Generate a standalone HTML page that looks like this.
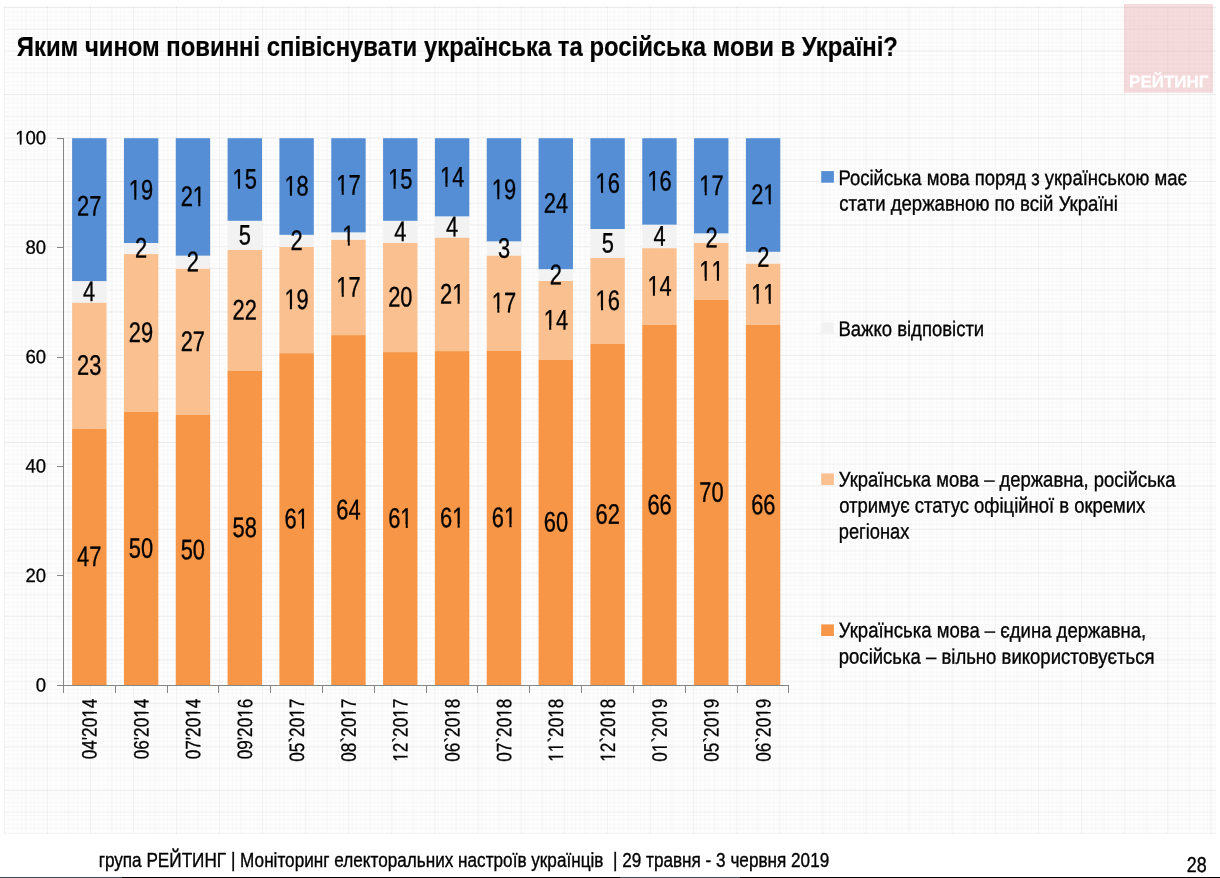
<!DOCTYPE html>
<html lang="uk"><head><meta charset="utf-8"><title>Рейтинг</title>
<style>html,body{margin:0;padding:0;background:#fff}body{width:1220px;height:878px;overflow:hidden;position:relative}svg{position:absolute;left:0;top:0;display:block}text{font-family:"Liberation Sans",sans-serif;white-space:pre}.tex{position:absolute;left:4px;top:5.5px;width:1212px;height:828.3px;background-color:#fdfdfd;background-image:linear-gradient(to right,rgba(0,0,0,.04) 1px,transparent 1px),linear-gradient(to bottom,rgba(0,0,0,.055) 1px,transparent 1px),linear-gradient(to right,rgba(0,0,0,.02) 1px,transparent 1px),linear-gradient(to bottom,rgba(0,0,0,.035) 1px,transparent 1px),linear-gradient(to right,rgba(0,0,0,.012) 1px,transparent 1px),linear-gradient(to bottom,rgba(0,0,0,.02) 1px,transparent 1px);background-size:43.1px 43.5px,43.1px 43.5px,43.1px 43.5px,43.1px 43.5px,4.31px 4.35px,4.31px 4.35px;background-position:-0.4px 0,0 1.1px,21.15px 0,0 22.85px,0 0,0 1.1px}.foot{position:absolute;left:0;top:876.5px;width:1220px;height:1.5px;background:linear-gradient(to right,#3b4852 0,#3b4852 122px,#000 122px,#000 620px,#3b4852 620px,#3b4852 740px,#000 740px)}</style></head><body>
<div class="tex"></div>
<svg width="1220" height="878" viewBox="0 0 1220 878">
<defs><clipPath id="c0"><rect x="-300" y="-100" width="600" height="97.51"/><rect x="-300.00" y="-2.49" width="267.27" height="20"/><rect x="-27.39" y="-2.49" width="1.80" height="20"/><rect x="-20.41" y="-2.49" width="320.41" height="20"/></clipPath><clipPath id="c1"><rect x="-300" y="-100" width="600" height="97.40"/><rect x="-300.00" y="-2.60" width="276.45" height="20"/><rect x="-17.96" y="-2.60" width="1.95" height="20"/><rect x="-10.58" y="-2.60" width="310.58" height="20"/></clipPath><clipPath id="c2"><rect x="-300" y="-100" width="600" height="97.40"/><rect x="-300.00" y="-2.60" width="276.45" height="20"/><rect x="-17.96" y="-2.60" width="1.95" height="20"/><rect x="-10.58" y="-2.60" width="310.58" height="20"/></clipPath><clipPath id="c3"><rect x="-300" y="-100" width="600" height="97.40"/><rect x="-300.00" y="-2.60" width="276.45" height="20"/><rect x="-17.96" y="-2.60" width="1.95" height="20"/><rect x="-10.58" y="-2.60" width="310.58" height="20"/></clipPath><clipPath id="c4"><rect x="-300" y="-100" width="600" height="97.40"/><rect x="-300.00" y="-2.60" width="276.45" height="20"/><rect x="-17.96" y="-2.60" width="1.95" height="20"/><rect x="-10.58" y="-2.60" width="310.58" height="20"/></clipPath><clipPath id="c5"><rect x="-300" y="-100" width="600" height="97.40"/><rect x="-300.00" y="-2.60" width="276.45" height="20"/><rect x="-17.96" y="-2.60" width="1.95" height="20"/><rect x="-10.58" y="-2.60" width="310.58" height="20"/></clipPath><clipPath id="c6"><rect x="-300" y="-100" width="600" height="97.40"/><rect x="-300.00" y="-2.60" width="276.45" height="20"/><rect x="-17.96" y="-2.60" width="1.95" height="20"/><rect x="-10.58" y="-2.60" width="310.58" height="20"/></clipPath><clipPath id="c7"><rect x="-300" y="-100" width="600" height="97.40"/><rect x="-300.00" y="-2.60" width="223.25" height="20"/><rect x="-71.16" y="-2.60" width="1.95" height="20"/><rect x="-63.78" y="-2.60" width="40.23" height="20"/><rect x="-17.96" y="-2.60" width="1.95" height="20"/><rect x="-10.58" y="-2.60" width="310.58" height="20"/></clipPath><clipPath id="c8"><rect x="-300" y="-100" width="600" height="97.40"/><rect x="-300.00" y="-2.60" width="276.45" height="20"/><rect x="-17.96" y="-2.60" width="1.95" height="20"/><rect x="-10.58" y="-2.60" width="310.58" height="20"/></clipPath><clipPath id="c9"><rect x="-300" y="-100" width="600" height="97.40"/><rect x="-300.00" y="-2.60" width="276.45" height="20"/><rect x="-17.96" y="-2.60" width="1.95" height="20"/><rect x="-10.58" y="-2.60" width="310.58" height="20"/></clipPath><clipPath id="c10"><rect x="-300" y="-100" width="600" height="97.40"/><rect x="-300.00" y="-2.60" width="223.25" height="20"/><rect x="-71.16" y="-2.60" width="1.95" height="20"/><rect x="-63.78" y="-2.60" width="-1.40" height="20"/><rect x="-59.59" y="-2.60" width="1.95" height="20"/><rect x="-52.21" y="-2.60" width="28.66" height="20"/><rect x="-17.96" y="-2.60" width="1.95" height="20"/><rect x="-10.58" y="-2.60" width="310.58" height="20"/></clipPath><clipPath id="c11"><rect x="-300" y="-100" width="600" height="97.40"/><rect x="-300.00" y="-2.60" width="223.25" height="20"/><rect x="-71.16" y="-2.60" width="1.95" height="20"/><rect x="-63.78" y="-2.60" width="40.23" height="20"/><rect x="-17.96" y="-2.60" width="1.95" height="20"/><rect x="-10.58" y="-2.60" width="310.58" height="20"/></clipPath><clipPath id="c12"><rect x="-300" y="-100" width="600" height="97.40"/><rect x="-300.00" y="-2.60" width="234.82" height="20"/><rect x="-59.59" y="-2.60" width="1.95" height="20"/><rect x="-52.21" y="-2.60" width="28.66" height="20"/><rect x="-17.96" y="-2.60" width="1.95" height="20"/><rect x="-10.58" y="-2.60" width="310.58" height="20"/></clipPath><clipPath id="c13"><rect x="-300" y="-100" width="600" height="97.40"/><rect x="-300.00" y="-2.60" width="276.45" height="20"/><rect x="-17.96" y="-2.60" width="1.95" height="20"/><rect x="-10.58" y="-2.60" width="310.58" height="20"/></clipPath><clipPath id="c14"><rect x="-300" y="-100" width="600" height="97.40"/><rect x="-300.00" y="-2.60" width="276.45" height="20"/><rect x="-17.96" y="-2.60" width="1.95" height="20"/><rect x="-10.58" y="-2.60" width="310.58" height="20"/></clipPath><clipPath id="c15"><rect x="-300" y="-100" width="600" height="96.82"/><rect x="-300.00" y="-3.18" width="284.46" height="20"/><rect x="-8.66" y="-3.18" width="2.63" height="20"/><rect x="0.62" y="-3.18" width="299.38" height="20"/></clipPath><clipPath id="c16"><rect x="-300" y="-100" width="600" height="96.82"/><rect x="-300.00" y="-3.18" width="300.15" height="20"/><rect x="7.02" y="-3.18" width="2.63" height="20"/><rect x="16.31" y="-3.18" width="283.69" height="20"/></clipPath><clipPath id="c17"><rect x="-300" y="-100" width="600" height="96.82"/><rect x="-300.00" y="-3.18" width="284.46" height="20"/><rect x="-8.66" y="-3.18" width="2.63" height="20"/><rect x="0.62" y="-3.18" width="299.38" height="20"/></clipPath><clipPath id="c18"><rect x="-300" y="-100" width="600" height="96.82"/><rect x="-300.00" y="-3.18" width="284.46" height="20"/><rect x="-8.66" y="-3.18" width="2.63" height="20"/><rect x="0.62" y="-3.18" width="299.38" height="20"/></clipPath><clipPath id="c19"><rect x="-300" y="-100" width="600" height="96.82"/><rect x="-300.00" y="-3.18" width="300.15" height="20"/><rect x="7.02" y="-3.18" width="2.63" height="20"/><rect x="16.31" y="-3.18" width="283.69" height="20"/></clipPath><clipPath id="c20"><rect x="-300" y="-100" width="600" height="96.82"/><rect x="-300.00" y="-3.18" width="284.46" height="20"/><rect x="-8.66" y="-3.18" width="2.63" height="20"/><rect x="0.62" y="-3.18" width="299.38" height="20"/></clipPath><clipPath id="c21"><rect x="-300" y="-100" width="600" height="96.82"/><rect x="-300.00" y="-3.18" width="292.31" height="20"/><rect x="-0.82" y="-3.18" width="2.63" height="20"/><rect x="8.46" y="-3.18" width="291.54" height="20"/></clipPath><clipPath id="c22"><rect x="-300" y="-100" width="600" height="96.82"/><rect x="-300.00" y="-3.18" width="284.46" height="20"/><rect x="-8.66" y="-3.18" width="2.63" height="20"/><rect x="0.62" y="-3.18" width="299.38" height="20"/></clipPath><clipPath id="c23"><rect x="-300" y="-100" width="600" height="96.82"/><rect x="-300.00" y="-3.18" width="284.46" height="20"/><rect x="-8.66" y="-3.18" width="2.63" height="20"/><rect x="0.62" y="-3.18" width="299.38" height="20"/></clipPath><clipPath id="c24"><rect x="-300" y="-100" width="600" height="96.82"/><rect x="-300.00" y="-3.18" width="284.46" height="20"/><rect x="-8.66" y="-3.18" width="2.63" height="20"/><rect x="0.62" y="-3.18" width="-0.48" height="20"/><rect x="7.02" y="-3.18" width="2.63" height="20"/><rect x="16.31" y="-3.18" width="283.69" height="20"/></clipPath></defs>
<rect x="1124" y="4" width="89" height="88.7" fill="#E8A2A2" fill-opacity="0.375"/>
<rect x="72.10" y="138.2" width="34.4" height="143.10" fill="#558ED5"/>
<rect x="72.10" y="281.3" width="34.4" height="21.50" fill="#F2F2F2"/>
<rect x="72.10" y="302.8" width="34.4" height="125.90" fill="#FAC090"/>
<rect x="72.10" y="428.7" width="34.4" height="256.60" fill="#F79646"/>
<rect x="123.93" y="138.2" width="34.4" height="104.80" fill="#558ED5"/>
<rect x="123.93" y="243.0" width="34.4" height="11.10" fill="#F2F2F2"/>
<rect x="123.93" y="254.1" width="34.4" height="157.90" fill="#FAC090"/>
<rect x="123.93" y="412.0" width="34.4" height="273.30" fill="#F79646"/>
<rect x="175.76" y="138.2" width="34.4" height="117.60" fill="#558ED5"/>
<rect x="175.76" y="255.8" width="34.4" height="13.00" fill="#F2F2F2"/>
<rect x="175.76" y="268.8" width="34.4" height="146.20" fill="#FAC090"/>
<rect x="175.76" y="415.0" width="34.4" height="270.30" fill="#F79646"/>
<rect x="227.59" y="138.2" width="34.4" height="82.70" fill="#558ED5"/>
<rect x="227.59" y="220.9" width="34.4" height="29.10" fill="#F2F2F2"/>
<rect x="227.59" y="250.0" width="34.4" height="120.90" fill="#FAC090"/>
<rect x="227.59" y="370.9" width="34.4" height="314.40" fill="#F79646"/>
<rect x="279.42" y="138.2" width="34.4" height="96.70" fill="#558ED5"/>
<rect x="279.42" y="234.9" width="34.4" height="12.10" fill="#F2F2F2"/>
<rect x="279.42" y="247.0" width="34.4" height="106.20" fill="#FAC090"/>
<rect x="279.42" y="353.2" width="34.4" height="332.10" fill="#F79646"/>
<rect x="331.25" y="138.2" width="34.4" height="94.40" fill="#558ED5"/>
<rect x="331.25" y="232.6" width="34.4" height="7.30" fill="#F2F2F2"/>
<rect x="331.25" y="239.9" width="34.4" height="95.20" fill="#FAC090"/>
<rect x="331.25" y="335.1" width="34.4" height="350.20" fill="#F79646"/>
<rect x="383.08" y="138.2" width="34.4" height="82.70" fill="#558ED5"/>
<rect x="383.08" y="220.9" width="34.4" height="22.00" fill="#F2F2F2"/>
<rect x="383.08" y="242.9" width="34.4" height="109.20" fill="#FAC090"/>
<rect x="383.08" y="352.1" width="34.4" height="333.20" fill="#F79646"/>
<rect x="434.91" y="138.2" width="34.4" height="78.40" fill="#558ED5"/>
<rect x="434.91" y="216.6" width="34.4" height="21.20" fill="#F2F2F2"/>
<rect x="434.91" y="237.8" width="34.4" height="113.30" fill="#FAC090"/>
<rect x="434.91" y="351.1" width="34.4" height="334.20" fill="#F79646"/>
<rect x="486.74" y="138.2" width="34.4" height="103.40" fill="#558ED5"/>
<rect x="486.74" y="241.6" width="34.4" height="14.10" fill="#F2F2F2"/>
<rect x="486.74" y="255.7" width="34.4" height="95.20" fill="#FAC090"/>
<rect x="486.74" y="350.9" width="34.4" height="334.40" fill="#F79646"/>
<rect x="538.57" y="138.2" width="34.4" height="131.20" fill="#558ED5"/>
<rect x="538.57" y="269.4" width="34.4" height="11.60" fill="#F2F2F2"/>
<rect x="538.57" y="281.0" width="34.4" height="78.90" fill="#FAC090"/>
<rect x="538.57" y="359.9" width="34.4" height="325.40" fill="#F79646"/>
<rect x="590.40" y="138.2" width="34.4" height="91.00" fill="#558ED5"/>
<rect x="590.40" y="229.2" width="34.4" height="28.80" fill="#F2F2F2"/>
<rect x="590.40" y="258.0" width="34.4" height="86.00" fill="#FAC090"/>
<rect x="590.40" y="344.0" width="34.4" height="341.30" fill="#F79646"/>
<rect x="642.23" y="138.2" width="34.4" height="86.60" fill="#558ED5"/>
<rect x="642.23" y="224.8" width="34.4" height="23.40" fill="#F2F2F2"/>
<rect x="642.23" y="248.2" width="34.4" height="76.80" fill="#FAC090"/>
<rect x="642.23" y="325.0" width="34.4" height="360.30" fill="#F79646"/>
<rect x="694.06" y="138.2" width="34.4" height="95.40" fill="#558ED5"/>
<rect x="694.06" y="233.6" width="34.4" height="9.30" fill="#F2F2F2"/>
<rect x="694.06" y="242.9" width="34.4" height="57.10" fill="#FAC090"/>
<rect x="694.06" y="300.0" width="34.4" height="385.30" fill="#F79646"/>
<rect x="745.89" y="138.2" width="34.4" height="113.70" fill="#558ED5"/>
<rect x="745.89" y="251.9" width="34.4" height="11.90" fill="#F2F2F2"/>
<rect x="745.89" y="263.8" width="34.4" height="61.20" fill="#FAC090"/>
<rect x="745.89" y="325.0" width="34.4" height="360.30" fill="#F79646"/>
<g stroke="#868686" stroke-width="1" fill="none" shape-rendering="crispEdges">
<line x1="63.5" y1="138.2" x2="63.5" y2="685.3"/>
<line x1="63.5" y1="685.3" x2="788.5" y2="685.3"/>
<line x1="57" y1="685.30" x2="63.5" y2="685.30"/>
<line x1="57" y1="575.88" x2="63.5" y2="575.88"/>
<line x1="57" y1="466.46" x2="63.5" y2="466.46"/>
<line x1="57" y1="357.04" x2="63.5" y2="357.04"/>
<line x1="57" y1="247.62" x2="63.5" y2="247.62"/>
<line x1="57" y1="138.20" x2="63.5" y2="138.20"/>
<line x1="63.50" y1="685.3" x2="63.50" y2="692.5"/>
<line x1="115.50" y1="685.3" x2="115.50" y2="692.5"/>
<line x1="167.50" y1="685.3" x2="167.50" y2="692.5"/>
<line x1="218.50" y1="685.3" x2="218.50" y2="692.5"/>
<line x1="270.50" y1="685.3" x2="270.50" y2="692.5"/>
<line x1="322.50" y1="685.3" x2="322.50" y2="692.5"/>
<line x1="374.50" y1="685.3" x2="374.50" y2="692.5"/>
<line x1="426.50" y1="685.3" x2="426.50" y2="692.5"/>
<line x1="477.50" y1="685.3" x2="477.50" y2="692.5"/>
<line x1="529.50" y1="685.3" x2="529.50" y2="692.5"/>
<line x1="581.50" y1="685.3" x2="581.50" y2="692.5"/>
<line x1="633.50" y1="685.3" x2="633.50" y2="692.5"/>
<line x1="685.50" y1="685.3" x2="685.50" y2="692.5"/>
<line x1="737.50" y1="685.3" x2="737.50" y2="692.5"/>
<line x1="788.50" y1="685.3" x2="788.50" y2="692.5"/>
</g>
<g font-size="19.3" text-anchor="end" stroke="#000" stroke-width="0.3" style="font-kerning:none">
<text transform="translate(46.1,691.40) rotate(0.04) scale(0.96,1)">0</text>
<text transform="translate(46.1,581.98) rotate(0.04) scale(0.96,1)">20</text>
<text transform="translate(46.1,472.56) rotate(0.04) scale(0.96,1)">40</text>
<text transform="translate(46.1,363.14) rotate(0.04) scale(0.96,1)">60</text>
<text transform="translate(46.1,253.72) rotate(0.04) scale(0.96,1)">80</text>
<text transform="translate(46.1,144.30) rotate(0.04) scale(0.96,1)" clip-path="url(#c0)">100</text>
</g>
<g font-size="20.8" text-anchor="end" stroke="#000" stroke-width="0.3" style="font-kerning:none">
<text transform="translate(96.65,698.7) rotate(-89.96) scale(0.826,1)" clip-path="url(#c1)">04'2014</text>
<text transform="translate(148.48,698.7) rotate(-89.96) scale(0.826,1)" clip-path="url(#c2)">06'2014</text>
<text transform="translate(200.31,698.7) rotate(-89.96) scale(0.826,1)" clip-path="url(#c3)">07'2014</text>
<text transform="translate(252.14,698.7) rotate(-89.96) scale(0.826,1)" clip-path="url(#c4)">09'2016</text>
<text transform="translate(303.97,698.7) rotate(-89.96) scale(0.826,1)" clip-path="url(#c5)">05`2017</text>
<text transform="translate(355.80,698.7) rotate(-89.96) scale(0.826,1)" clip-path="url(#c6)">08`2017</text>
<text transform="translate(407.63,698.7) rotate(-89.96) scale(0.826,1)" clip-path="url(#c7)">12`2017</text>
<text transform="translate(459.46,698.7) rotate(-89.96) scale(0.826,1)" clip-path="url(#c8)">06`2018</text>
<text transform="translate(511.29,698.7) rotate(-89.96) scale(0.826,1)" clip-path="url(#c9)">07`2018</text>
<text transform="translate(563.12,698.7) rotate(-89.96) scale(0.826,1)" clip-path="url(#c10)">11`2018</text>
<text transform="translate(614.95,698.7) rotate(-89.96) scale(0.826,1)" clip-path="url(#c11)">12`2018</text>
<text transform="translate(666.78,698.7) rotate(-89.96) scale(0.826,1)" clip-path="url(#c12)">01`2019</text>
<text transform="translate(718.61,698.7) rotate(-89.96) scale(0.826,1)" clip-path="url(#c13)">05`2019</text>
<text transform="translate(770.44,698.7) rotate(-89.96) scale(0.826,1)" clip-path="url(#c14)">06`2019</text>
</g>
<g font-size="28.2" text-anchor="middle" stroke="#000" stroke-width="0.35" style="font-kerning:none">
<text transform="translate(89.15,215.55) rotate(0.04) scale(0.775,1)">27</text>
<text transform="translate(89.15,301.05) rotate(0.04) scale(0.775,1)">4</text>
<text transform="translate(89.15,374.75) rotate(0.04) scale(0.775,1)">23</text>
<text transform="translate(89.15,566.00) rotate(0.04) scale(0.775,1)">47</text>
<text transform="translate(141.01,199.60) rotate(0.04) scale(0.775,1)" clip-path="url(#c15)">19</text>
<text transform="translate(141.01,257.55) rotate(0.04) scale(0.775,1)">2</text>
<text transform="translate(141.01,342.05) rotate(0.04) scale(0.775,1)">29</text>
<text transform="translate(141.01,557.65) rotate(0.04) scale(0.775,1)">50</text>
<text transform="translate(192.87,206.00) rotate(0.04) scale(0.775,1)" clip-path="url(#c16)">21</text>
<text transform="translate(192.87,271.30) rotate(0.04) scale(0.775,1)">2</text>
<text transform="translate(192.87,350.90) rotate(0.04) scale(0.775,1)">27</text>
<text transform="translate(192.87,559.15) rotate(0.04) scale(0.775,1)">50</text>
<text transform="translate(244.73,188.55) rotate(0.04) scale(0.775,1)" clip-path="url(#c17)">15</text>
<text transform="translate(244.73,244.45) rotate(0.04) scale(0.775,1)">5</text>
<text transform="translate(244.73,319.45) rotate(0.04) scale(0.775,1)">22</text>
<text transform="translate(244.73,537.10) rotate(0.04) scale(0.775,1)">58</text>
<text transform="translate(296.59,195.55) rotate(0.04) scale(0.775,1)" clip-path="url(#c18)">18</text>
<text transform="translate(296.59,249.95) rotate(0.04) scale(0.775,1)">2</text>
<text transform="translate(296.59,309.10) rotate(0.04) scale(0.775,1)" clip-path="url(#c15)">19</text>
<text transform="translate(296.59,528.25) rotate(0.04) scale(0.775,1)" clip-path="url(#c19)">61</text>
<text transform="translate(348.45,194.40) rotate(0.04) scale(0.775,1)" clip-path="url(#c20)">17</text>
<text transform="translate(348.45,245.25) rotate(0.04) scale(0.775,1)" clip-path="url(#c21)">1</text>
<text transform="translate(348.45,296.50) rotate(0.04) scale(0.775,1)" clip-path="url(#c20)">17</text>
<text transform="translate(348.45,519.20) rotate(0.04) scale(0.775,1)">64</text>
<text transform="translate(400.31,188.55) rotate(0.04) scale(0.775,1)" clip-path="url(#c17)">15</text>
<text transform="translate(400.31,240.90) rotate(0.04) scale(0.775,1)">4</text>
<text transform="translate(400.31,306.50) rotate(0.04) scale(0.775,1)">20</text>
<text transform="translate(400.31,527.70) rotate(0.04) scale(0.775,1)" clip-path="url(#c19)">61</text>
<text transform="translate(452.17,186.40) rotate(0.04) scale(0.775,1)" clip-path="url(#c22)">14</text>
<text transform="translate(452.17,236.20) rotate(0.04) scale(0.775,1)">4</text>
<text transform="translate(452.17,303.45) rotate(0.04) scale(0.775,1)" clip-path="url(#c16)">21</text>
<text transform="translate(452.17,527.20) rotate(0.04) scale(0.775,1)" clip-path="url(#c19)">61</text>
<text transform="translate(504.03,198.90) rotate(0.04) scale(0.775,1)" clip-path="url(#c15)">19</text>
<text transform="translate(504.03,257.65) rotate(0.04) scale(0.775,1)">3</text>
<text transform="translate(504.03,312.30) rotate(0.04) scale(0.775,1)" clip-path="url(#c20)">17</text>
<text transform="translate(504.03,527.10) rotate(0.04) scale(0.775,1)" clip-path="url(#c19)">61</text>
<text transform="translate(555.89,212.80) rotate(0.04) scale(0.775,1)">24</text>
<text transform="translate(555.89,284.20) rotate(0.04) scale(0.775,1)">2</text>
<text transform="translate(555.89,329.45) rotate(0.04) scale(0.775,1)" clip-path="url(#c22)">14</text>
<text transform="translate(555.89,531.60) rotate(0.04) scale(0.775,1)">60</text>
<text transform="translate(607.75,192.70) rotate(0.04) scale(0.775,1)" clip-path="url(#c23)">16</text>
<text transform="translate(607.75,252.60) rotate(0.04) scale(0.775,1)">5</text>
<text transform="translate(607.75,310.00) rotate(0.04) scale(0.775,1)" clip-path="url(#c23)">16</text>
<text transform="translate(607.75,523.65) rotate(0.04) scale(0.775,1)">62</text>
<text transform="translate(659.61,190.50) rotate(0.04) scale(0.775,1)" clip-path="url(#c23)">16</text>
<text transform="translate(659.61,245.50) rotate(0.04) scale(0.775,1)">4</text>
<text transform="translate(659.61,295.60) rotate(0.04) scale(0.775,1)" clip-path="url(#c22)">14</text>
<text transform="translate(659.61,514.15) rotate(0.04) scale(0.775,1)">66</text>
<text transform="translate(711.47,194.90) rotate(0.04) scale(0.775,1)" clip-path="url(#c20)">17</text>
<text transform="translate(711.47,247.25) rotate(0.04) scale(0.775,1)">2</text>
<text transform="translate(711.47,280.45) rotate(0.04) scale(0.775,1)" clip-path="url(#c24)">11</text>
<text transform="translate(711.47,501.65) rotate(0.04) scale(0.775,1)">70</text>
<text transform="translate(763.33,204.05) rotate(0.04) scale(0.775,1)" clip-path="url(#c16)">21</text>
<text transform="translate(763.33,266.85) rotate(0.04) scale(0.775,1)">2</text>
<text transform="translate(763.33,303.40) rotate(0.04) scale(0.775,1)" clip-path="url(#c24)">11</text>
<text transform="translate(763.33,514.15) rotate(0.04) scale(0.775,1)">66</text>
</g>
<rect x="821.2" y="171.1" width="12.7" height="11.6" fill="#558ED5"/>
<rect x="821.2" y="322.3" width="12.7" height="11.6" fill="#F2F2F2"/>
<rect x="821.2" y="473.4" width="12.7" height="11.6" fill="#FAC090"/>
<rect x="821.2" y="624.4" width="12.7" height="11.6" fill="#F79646"/>
<text transform="translate(16.86,56.00) scale(0.8406,1)" font-size="28.4" font-weight="bold" fill="#000" stroke="#000" stroke-width="0.2">Яким чином повинні співіснувати українська та російська мови в Україні?</text>
<text transform="translate(838.39,184.88) rotate(0.04) scale(0.8732,1)" font-size="21.2" font-weight="normal" fill="#000" stroke="#000" stroke-width="0.35">Російська мова поряд з українською має</text>
<text transform="translate(839.13,210.50) rotate(0.04) scale(0.8769,1)" font-size="21.2" font-weight="normal" fill="#000" stroke="#000" stroke-width="0.35">стати державною по всій Україні</text>
<text transform="translate(838.39,335.95) rotate(0.04) scale(0.8734,1)" font-size="21.2" font-weight="normal" fill="#000" stroke="#000" stroke-width="0.35">Важко відповісти</text>
<text transform="translate(838.81,486.48) rotate(0.04) scale(0.8703,1)" font-size="21.2" font-weight="normal" fill="#000" stroke="#000" stroke-width="0.35">Українська мова – державна, російська</text>
<text transform="translate(839.14,512.39) rotate(0.04) scale(0.8717,1)" font-size="21.2" font-weight="normal" fill="#000" stroke="#000" stroke-width="0.35">отримує статус офіційної в окремих</text>
<text transform="translate(838.78,538.38) rotate(0.04) scale(0.8610,1)" font-size="21.2" font-weight="normal" fill="#000" stroke="#000" stroke-width="0.35">регіонах</text>
<text transform="translate(838.80,637.29) rotate(0.04) scale(0.8743,1)" font-size="21.2" font-weight="normal" fill="#000" stroke="#000" stroke-width="0.35">Українська мова – єдина державна,</text>
<text transform="translate(838.76,663.59) rotate(0.04) scale(0.8743,1)" font-size="21.2" font-weight="normal" fill="#000" stroke="#000" stroke-width="0.35">російська – вільно використовується</text>
<text transform="translate(98.65,867.00) scale(0.8802,1)" font-size="19.5" font-weight="normal" fill="#000" stroke="#000" stroke-width="0.35">група РЕЙТИНГ | Моніторинг електоральних настроїв українців  | 29 травня - 3 червня 2019</text>
<text transform="translate(1186.78,871.89) rotate(0.04) scale(0.8317,1)" font-size="21.5" font-weight="normal" fill="#000" stroke="#000" stroke-width="0.35">28</text>
<text transform="translate(1129.08,87.37) rotate(0.04) scale(0.9986,1)" font-size="17.0" font-weight="bold" fill="#fff" stroke="#fff" stroke-width="0.2">РЕЙТИНГ</text>
</svg>
<div class="foot"></div>
</body></html>
